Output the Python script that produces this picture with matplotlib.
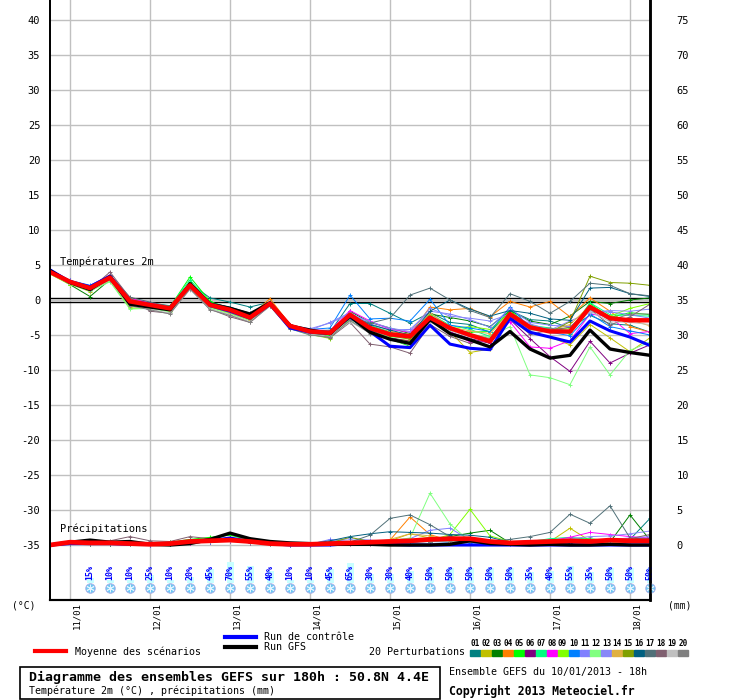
import matplotlib
matplotlib.use("Agg")
import matplotlib.pyplot as plt
from matplotlib.patches import Rectangle
from matplotlib.lines import Line2D

# 31 pas de 6h depuis le 10/01/2013 18h
steps = list(range(31))
day_steps = [1, 5, 9, 13, 17, 21, 25, 29]
day_labels = ['11/01', '12/01', '13/01', '14/01', '15/01', '16/01', '17/01', '18/01']

t_mean = [4.0, 2.6, 1.7, 3.2, -0.2, -0.7, -1.2, 2.1, -0.7, -1.4, -2.5, -0.5, -3.7, -4.5, -4.7,
          -2.1, -4.0, -4.9, -5.2, -2.5, -4.0, -5.0, -5.9, -2.0, -3.9, -4.5, -4.5, -1.0, -2.6, -2.9, -2.9]
t_ctrl = [4.3, 2.6, 1.9, 3.4, -0.2, -0.6, -1.3, 2.2, -0.8, -1.6, -2.6, -0.6, -4.0, -4.6, -4.8,
          -2.4, -4.5, -6.6, -6.8, -3.6, -6.3, -6.9, -7.1, -2.6, -4.6, -5.3, -6.0, -3.0, -4.4, -5.3, -6.5]
t_gfs = [4.2, 2.5, 1.5, 3.3, -0.6, -1.0, -1.4, 2.3, -0.6, -1.2, -2.0, -0.4, -3.7, -4.3, -4.8,
         -2.3, -4.6, -5.6, -6.2, -2.8, -4.8, -5.7, -6.7, -4.5, -7.0, -8.3, -7.9, -4.3, -7.0, -7.5, -7.9]

t_p01 = [4.2, 2.7, 1.8, 3.3, 0.0, -0.5, -0.8, 2.4, 0.3, -0.3, -1.0, -0.3, -3.5, -4.6, -4.6,
         -0.5, -0.5, -1.9, -3.3, -1.8, -3.2, -3.5, -4.6, -1.5, -2.8, -3.0, -4.0, -2.2, -3.4, -3.6, -4.6]
t_p02 = [3.8, 2.3, 1.2, 3.0, -1.0, -1.0, -1.5, 1.8, -1.0, -1.8, -2.8, -0.6, -3.8, -4.8, -5.0,
         -2.5, -4.5, -5.5, -5.8, -3.0, -4.5, -7.5, -7.0, -2.5, -4.6, -5.3, -6.4, -3.5, -5.4, -7.4, -5.4]
t_p03 = [3.9, 2.2, 0.5, 2.9, -0.4, -0.8, -1.4, 2.6, -0.3, -1.1, -2.2, -0.3, -3.6, -4.3, -5.3,
         -1.6, -3.2, -4.0, -4.8, -2.0, -2.5, -3.0, -3.8, -1.5, -3.0, -3.5, -2.3, -0.2, -0.5, 0.0, 0.3]
t_p04 = [4.0, 2.5, 1.6, 3.0, 0.3, -0.6, -1.3, 2.0, -0.5, -1.3, -2.3, 0.2, -3.5, -4.4, -4.6,
         -1.8, -3.8, -4.5, -4.9, -1.0, -1.4, -1.2, -2.4, -0.2, -1.0, -0.2, -2.4, 0.3, -1.6, -3.8, -4.6]
t_p05 = [4.3, 2.6, 1.5, 2.8, -0.3, -0.9, -1.0, 3.3, -0.2, -1.3, -2.6, -0.6, -3.9, -4.7, -5.1,
         -2.3, -4.3, -5.6, -6.6, -2.6, -4.2, -4.6, -4.5, -1.5, -3.8, -4.1, -4.8, -0.5, -2.5, -1.8, -2.1]
t_p06 = [4.1, 2.5, 1.7, 3.1, -0.4, -0.8, -1.3, 2.0, -0.8, -1.6, -2.7, -0.7, -3.8, -4.5, -4.8,
         -2.4, -4.3, -5.4, -5.9, -2.9, -4.6, -5.5, -6.2, -2.8, -5.5, -8.1, -10.2, -5.9, -9.0, -7.6, -6.4]
t_p07 = [4.1, 2.7, 1.9, 3.4, 0.1, -0.5, -0.9, 2.9, -0.4, -1.1, -2.1, -0.4, -3.6, -4.4, -4.6,
         -2.0, -3.6, -4.6, -5.3, -2.0, -3.6, -4.2, -5.2, -2.3, -3.6, -4.0, -4.4, -0.4, -2.1, -2.2, -2.3]
t_p08 = [4.2, 2.8, 2.0, 3.6, 0.2, -0.4, -1.0, 2.2, -0.6, -1.5, -2.4, -0.5, -3.7, -4.2, -4.4,
         -1.5, -3.0, -4.2, -4.6, -2.3, -4.5, -6.0, -5.8, -3.1, -6.7, -6.9, -5.8, -2.0, -2.4, -4.8, -4.5]
t_p09 = [3.7, 2.2, 1.4, 2.7, -1.2, -1.1, -1.6, 2.3, -1.0, -1.9, -2.9, -0.8, -4.0, -4.9, -5.5,
         -2.7, -4.5, -5.5, -6.0, -2.2, -4.1, -3.8, -4.2, -1.8, -3.9, -4.2, -4.0, -0.8, -2.3, -1.2, -0.5]
t_p10 = [4.3, 2.8, 2.1, 3.5, 0.0, -0.5, -1.1, 2.2, -0.9, -1.7, -2.6, -0.5, -3.8, -4.2, -4.0,
         0.7, -2.7, -2.6, -3.0, 0.1, -3.6, -4.0, -4.5, -1.0, -3.9, -4.6, -5.1, -2.0, -3.8, -4.4, -5.0]
t_p11 = [4.0, 2.6, 1.8, 3.2, -0.1, -0.6, -1.1, 2.1, -0.7, -1.4, -2.4, -0.5, -3.6, -4.3, -3.2,
         -1.8, -3.4, -4.3, -4.2, -1.6, -2.0, -2.8, -3.9, -1.2, -3.2, -3.6, -3.8, -1.6, -1.7, -2.1, -2.6]
t_p12 = [3.8, 2.3, 1.3, 2.6, -1.3, -1.2, -1.7, 1.8, -1.2, -2.0, -2.9, -0.9, -4.1, -5.0, -5.3,
         -3.0, -4.5, -5.3, -5.5, -2.7, -3.8, -4.9, -5.3, -3.8, -10.7, -11.1, -12.1, -6.7, -10.7, -7.2, -6.0]
t_p13 = [4.1, 2.7, 1.9, 3.3, 0.1, -0.7, -1.2, 2.0, -0.8, -1.5, -2.5, -0.6, -3.6, -4.1, -3.3,
         -2.0, -3.1, -4.0, -4.5, -1.2, -2.3, -2.6, -3.0, -2.0, -3.4, -4.3, -3.0, -1.8, -1.5, -1.6, -1.3]
t_p14 = [4.0, 2.5, 1.6, 3.1, -0.3, -0.9, -1.5, 2.0, -0.9, -1.8, -2.8, -0.7, -3.9, -4.7, -4.9,
         -2.2, -4.0, -5.0, -5.4, -1.8, -3.9, -4.4, -4.8, -1.9, -3.8, -4.4, -3.5, -0.8, -2.4, -2.8, -3.7]
t_p15 = [3.9, 2.4, 1.5, 3.0, -0.5, -0.9, -1.4, 2.1, -0.8, -1.6, -2.7, -0.5, -3.7, -4.6, -4.9,
         -2.3, -4.2, -5.1, -5.6, -2.6, -4.3, -5.0, -5.6, -2.5, -4.1, -4.6, -3.1, 3.4, 2.5, 2.4, 2.1]
t_p16 = [4.2, 2.6, 1.8, 3.4, 0.0, -0.6, -1.1, 2.3, -0.4, -1.0, -1.9, -0.4, -3.5, -4.4, -4.5,
         -2.1, -3.5, -4.3, -5.0, -1.6, 0.0, -1.3, -2.3, -1.5, -1.9, -2.7, -2.9, 1.7, 1.8, 0.9, 0.5]
t_p17 = [4.0, 2.5, 1.6, 3.6, 0.4, -0.3, -0.9, 2.2, -0.5, -1.2, -2.2, -0.3, -3.5, -4.4, -4.3,
         -2.5, -3.3, -2.6, 0.7, 1.7, 0.0, -1.5, -2.5, 0.9, -0.2, -1.9, -0.2, 2.4, 2.1, 0.9, 0.6]
t_p18 = [3.9, 2.4, 1.5, 4.0, 0.3, -1.6, -1.9, 1.6, -1.3, -2.4, -3.2, -0.8, -4.0, -4.9, -5.4,
         -3.2, -6.3, -6.7, -7.6, -3.5, -5.2, -6.2, -5.6, -2.5, -4.9, -4.3, -3.9, -1.3, -3.6, -2.4, -0.6]
t_p19 = [3.8, 2.3, 1.4, 2.8, -0.9, -1.3, -1.9, 1.5, -1.3, -2.1, -3.1, -0.9, -4.0, -4.9, -5.2,
         -3.1, -4.7, -5.7, -6.4, -3.2, -4.4, -5.3, -5.7, -2.4, -4.3, -4.6, -4.3, -1.6, -3.1, -3.2, -3.5]
t_p20 = [3.9, 2.4, 1.5, 2.9, -0.8, -1.4, -2.0, 1.6, -1.4, -2.2, -3.2, -0.8, -4.1, -5.0, -5.3,
         -2.9, -4.8, -5.5, -6.1, -2.9, -4.2, -4.9, -5.5, -2.3, -4.2, -4.0, -4.6, -1.2, -2.9, -2.0, -2.0]

# précipitations (mm)
p_mean = [0.0, 0.4, 0.3, 0.3, 0.2, 0.1, 0.2, 0.5, 0.6, 0.7, 0.5, 0.2, 0.1, 0.1, 0.2,
          0.3, 0.4, 0.5, 0.6, 0.8, 0.9, 0.9, 0.5, 0.3, 0.4, 0.5, 0.6, 0.5, 0.7, 0.6, 0.6]
p_ctrl = [0.0, 0.2, 0.2, 0.2, 0.1, 0.1, 0.1, 0.4, 0.6, 1.0, 0.5, 0.2, 0.0, 0.0, 0.0,
          0.2, 0.3, 0.1, 0.0, 0.0, 0.0, 0.0, 0.0, 0.0, 0.0, 0.0, 0.0, 0.0, 0.0, 0.0, 0.0]
p_gfs = [0.0, 0.4, 0.7, 0.4, 0.5, 0.1, 0.0, 0.2, 0.8, 1.7, 0.9, 0.5, 0.3, 0.2, 0.1,
         0.1, 0.1, 0.0, 0.0, 0.0, 0.1, 0.6, 0.2, 0.1, 0.0, 0.1, 0.0, 0.0, 0.1, 0.0, 0.0]

p_p01 = [0, 0.3, 0.2, 0.2, 0.1, 0.1, 0.2, 0.5, 0.6, 0.8, 0.5, 0.2, 0.1, 0.1, 0.3,
         0.5, 0.6, 0.5, 0.4, 0.6, 0.7, 0.5, 0.4, 0.3, 0.5, 0.4, 0.3, 0.5, 0.6, 0.8, 3.8]
p_p02 = [0, 0.2, 0.3, 0.2, 0.1, 0.1, 0.2, 0.6, 0.7, 1.0, 0.6, 0.2, 0.1, 0.1, 0.2,
         0.4, 0.3, 0.6, 1.6, 1.0, 0.5, 0.6, 0.4, 0.3, 0.4, 0.5, 2.4, 0.6, 0.4, 0.5, 0.6]
p_p03 = [0, 0.2, 0.2, 0.2, 0.1, 0.1, 0.3, 0.6, 1.0, 1.5, 0.8, 0.3, 0.1, 0.1, 0.2,
         0.3, 0.4, 0.5, 0.6, 0.8, 1.2, 1.7, 2.1, 0.3, 0.3, 0.4, 0.3, 0.5, 0.4, 4.3, 0.7]
p_p04 = [0, 0.2, 0.1, 0.2, 0.1, 0.1, 0.2, 0.4, 0.5, 0.7, 0.4, 0.2, 0.1, 0.1, 0.2,
         0.3, 0.4, 0.7, 4.0, 1.5, 0.6, 0.4, 0.3, 0.3, 0.4, 0.3, 0.5, 0.3, 0.5, 0.4, 0.4]
p_p05 = [0, 0.1, 0.2, 0.1, 0.1, 0.1, 0.4, 0.8, 1.1, 1.4, 0.7, 0.3, 0.1, 0.1, 0.1,
         0.2, 0.3, 0.4, 0.6, 0.5, 0.7, 0.6, 0.5, 0.3, 0.4, 0.6, 0.8, 0.9, 0.6, 0.5, 0.6]
p_p06 = [0, 0.1, 0.1, 0.1, 0.1, 0.0, 0.1, 0.3, 0.4, 0.6, 0.3, 0.1, 0.0, 0.0, 0.1,
         0.1, 0.2, 0.3, 0.4, 0.6, 0.5, 0.4, 0.3, 0.2, 0.3, 0.4, 0.6, 0.5, 0.7, 0.6, 0.5]
p_p07 = [0, 0.2, 0.2, 0.2, 0.1, 0.1, 0.2, 0.5, 0.7, 0.9, 0.5, 0.2, 0.1, 0.1, 0.1,
         0.3, 0.4, 0.5, 0.5, 0.7, 0.6, 0.5, 0.4, 0.4, 0.5, 0.9, 1.1, 0.8, 0.6, 0.5, 0.4]
p_p08 = [0, 0.1, 0.1, 0.1, 0.1, 0.0, 0.1, 0.3, 0.5, 0.7, 0.4, 0.2, 0.1, 0.0, 0.1,
         0.2, 0.3, 0.4, 0.5, 0.6, 0.5, 0.4, 0.3, 0.3, 0.4, 0.6, 1.1, 1.8, 1.5, 1.2, 1.0]
p_p09 = [0, 0.2, 0.2, 0.2, 0.1, 0.1, 0.2, 0.5, 0.6, 0.8, 0.5, 0.2, 0.1, 0.1, 0.2,
         0.3, 0.4, 0.4, 0.6, 0.6, 1.5, 5.1, 1.3, 0.5, 0.4, 0.5, 0.6, 0.4, 0.5, 0.6, 0.7]
p_p10 = [0, 0.1, 0.1, 0.1, 0.1, 0.0, 0.1, 0.4, 0.5, 0.7, 0.4, 0.1, 0.0, 0.0, 0.2,
         0.5, 0.6, 0.5, 0.4, 0.5, 0.4, 0.3, 0.3, 0.2, 0.3, 0.5, 0.4, 0.6, 0.5, 0.4, 0.4]
p_p11 = [0, 0.2, 0.2, 0.2, 0.1, 0.1, 0.2, 0.5, 0.7, 0.8, 0.4, 0.2, 0.1, 0.1, 0.8,
         0.5, 0.6, 0.7, 0.9, 2.1, 2.4, 0.7, 0.5, 0.4, 0.6, 0.5, 0.7, 0.6, 0.8, 1.0, 1.2]
p_p12 = [0, 0.1, 0.1, 0.2, 0.1, 0.1, 0.2, 0.4, 0.6, 0.8, 0.5, 0.2, 0.1, 0.1, 0.2,
         0.3, 0.3, 0.6, 1.0, 7.4, 3.0, 0.5, 0.4, 0.3, 0.4, 0.6, 0.5, 0.5, 0.6, 0.5, 0.5]
p_p13 = [0, 0.1, 0.2, 0.2, 0.1, 0.1, 0.2, 0.4, 0.6, 0.7, 0.4, 0.2, 0.1, 0.1, 0.6,
         0.9, 0.7, 0.5, 0.6, 0.8, 0.9, 0.6, 0.5, 0.4, 0.5, 0.7, 0.9, 1.2, 1.3, 1.6, 2.0]
p_p14 = [0, 0.2, 0.2, 0.2, 0.1, 0.1, 0.2, 0.5, 0.7, 0.9, 0.6, 0.2, 0.1, 0.1, 0.2,
         0.3, 0.3, 0.8, 1.6, 1.3, 0.7, 0.6, 0.5, 0.3, 0.4, 0.5, 0.6, 0.5, 0.4, 0.5, 0.6]
p_p15 = [0, 0.1, 0.2, 0.2, 0.1, 0.1, 0.2, 0.6, 0.8, 1.0, 0.5, 0.2, 0.1, 0.1, 0.3,
         1.1, 0.5, 0.4, 0.5, 0.6, 0.5, 0.4, 0.4, 0.3, 0.4, 0.5, 0.6, 0.5, 0.6, 0.7, 0.8]
p_p16 = [0, 0.2, 0.2, 0.2, 0.1, 0.1, 0.2, 0.5, 0.6, 0.8, 0.4, 0.2, 0.2, 0.2, 0.6,
         1.2, 1.6, 1.9, 1.8, 1.7, 1.5, 1.4, 1.1, 0.4, 0.4, 0.5, 0.6, 0.5, 0.6, 0.8, 0.9]
p_p17 = [0, 0.2, 0.2, 0.2, 0.1, 0.1, 0.2, 0.5, 0.6, 0.8, 0.5, 0.2, 0.1, 0.1, 0.2,
         0.4, 1.4, 3.8, 4.3, 2.9, 1.2, 0.6, 0.5, 0.8, 1.2, 1.8, 4.4, 3.1, 5.6, 1.0, 0.8]
p_p18 = [0, 0.3, 0.4, 0.6, 1.2, 0.6, 0.5, 1.2, 0.9, 0.8, 0.5, 0.3, 0.2, 0.2, 0.2,
         0.3, 0.4, 0.5, 0.6, 0.5, 0.6, 0.5, 0.4, 0.3, 0.5, 0.6, 0.7, 0.8, 0.6, 0.9, 1.5]
p_p19 = [0, 0.2, 0.3, 0.3, 0.2, 0.2, 0.3, 0.5, 0.6, 0.7, 0.4, 0.2, 0.1, 0.1, 0.1,
         0.2, 0.3, 0.4, 0.5, 0.6, 0.5, 0.4, 0.3, 0.2, 0.3, 0.4, 0.5, 0.4, 0.5, 0.6, 0.6]
p_p20 = [0, 0.2, 0.2, 0.3, 0.2, 0.1, 0.3, 0.6, 0.7, 0.8, 0.5, 0.3, 0.2, 0.1, 0.1,
         0.3, 0.4, 0.5, 0.4, 0.5, 0.6, 0.5, 0.4, 0.3, 0.4, 0.5, 0.6, 0.5, 0.6, 0.7, 0.7]

# probabilité de neige (%) à partir du pas 2
snow_pct = [15, 10, 10, 25, 10, 20, 45, 70, 55, 40, 10, 10, 45, 65, 30,
            30, 40, 50, 50, 50, 50, 50, 35, 40, 55, 35, 50, 50, 50]

pert_colors = ['#008080', '#c0c000', '#008000', '#ff8000', '#00ff00', '#800080', '#00ff80',
               '#ff00ff', '#80ff00', '#0080ff', '#8080ff', '#80ff80', '#8888f8', '#e0b040',
               '#80a000', '#006080', '#507078', '#806070', '#c0c0c0', '#808080']

t_perts = [t_p01, t_p02, t_p03, t_p04, t_p05, t_p06, t_p07, t_p08, t_p09, t_p10,
           t_p11, t_p12, t_p13, t_p14, t_p15, t_p16, t_p17, t_p18, t_p19, t_p20]
p_perts = [p_p01, p_p02, p_p03, p_p04, p_p05, p_p06, p_p07, p_p08, p_p09, p_p10,
           p_p11, p_p12, p_p13, p_p14, p_p15, p_p16, p_p17, p_p18, p_p19, p_p20]

PRECIP_BASE = -35  # 0 mm tracé au niveau -35 °C
MONO = 'DejaVu Sans Mono'
W, H = 740, 700


def prec(vals):
    return [PRECIP_BASE + v for v in vals]


def ftext(x, y, s, **kw):
    # texte placé en pixels (origine en haut à gauche)
    fig.text(x / W, 1 - y / H, s, family=MONO, **kw)


fig = plt.figure(figsize=(7.4, 7.0), dpi=100)
ax = fig.add_axes([50 / W, 100 / H, 600 / W, 600 / H])
ax.set_xlim(0, 30)
ax.set_ylim(-300 / 7, 300 / 7)

for lvl in range(-35, 45, 5):
    ax.axhline(lvl, color='#c0c0c0', lw=1, zorder=0)
for d in day_steps:
    ax.axvline(d, color='#c0c0c0', lw=1, zorder=0)
ax.axhline(0.22, color='black', lw=1, zorder=1)
ax.axhline(-0.22, color='black', lw=1, zorder=1)

for vals, col in zip(t_perts, pert_colors):
    ax.plot(steps, vals, color=col, lw=0.7, marker='+', ms=3, mew=0.7, zorder=2)
for vals, col in zip(p_perts, pert_colors):
    ax.plot(steps, prec(vals), color=col, lw=0.7, marker='+', ms=3, mew=0.7, zorder=2)

ax.plot(steps, t_ctrl, color='#0000ff', lw=2.2, zorder=3)
ax.plot(steps, t_gfs, color='black', lw=2.4, zorder=3)
ax.plot(steps, t_mean, color='#ff0000', lw=3.2, zorder=4)
ax.plot(steps, prec(p_ctrl), color='#0000ff', lw=2.2, zorder=3)
ax.plot(steps, prec(p_gfs), color='black', lw=2.4, zorder=3)
ax.plot(steps, prec(p_mean), color='#ff0000', lw=3.4, zorder=4)

# neige
snow_steps = steps[2:]
ax.bar(snow_steps, [p * 0.043 for p in snow_pct], bottom=-40.4, width=0.35,
       color='#c8ffff', zorder=2)
for s, p in zip(snow_steps, snow_pct):
    ax.text(s, -38.9, f'{p}%', rotation=90, ha='center', va='center', color='#0000ff',
            fontsize=6, family=MONO, fontweight='bold', zorder=5, clip_on=False)
ax.scatter(snow_steps, [-41.1] * len(snow_steps), s=48, color='#70c8f2',
           edgecolors='#b0b0e8', linewidths=0.6, zorder=5, clip_on=False)
ax.scatter(snow_steps, [-41.1] * len(snow_steps), s=24, marker=(6, 2, 0),
           color='#e4f4ff', linewidths=0.7, zorder=6, clip_on=False)

ax.text(0.5, 5.4, 'Températures 2m', fontsize=7.5, family=MONO, va='center')
ax.text(0.5, -32.7, 'Précipitations', fontsize=7.5, family=MONO, va='center')

ax.set_yticks(range(-35, 45, 5))
ax.set_yticklabels([str(v) for v in range(-35, 45, 5)], family=MONO, fontsize=7.5)
ax.tick_params(axis='y', length=0, pad=7)
ax.set_xticks([])

ax2 = ax.twinx()
ax2.set_ylim(-300 / 7 - PRECIP_BASE, 300 / 7 - PRECIP_BASE)
ax2.set_yticks(range(0, 80, 5))
ax2.set_yticklabels([str(v) for v in range(0, 80, 5)], family=MONO, fontsize=7.5)
ax2.tick_params(axis='y', length=0, pad=19)

for a in (ax, ax2):
    a.spines['top'].set_visible(False)
    a.spines['left'].set_linewidth(1.3)
    a.spines['right'].set_linewidth(1.8)
    a.spines['bottom'].set_linewidth(1.5)

for d, lab in zip(day_steps, day_labels):
    ax.text(d + 0.1, -300 / 7 - 0.3, lab, rotation=90, ha='left', va='top',
            fontsize=6.5, family=MONO)

ftext(12, 606, '(°C)', fontsize=7, va='center')
ftext(668, 606, '(mm)', fontsize=7, va='center')

# légende
fig.add_artist(Line2D([35 / W, 66 / W], [1 - 651 / H] * 2, color='#ff0000', lw=3))
ftext(75, 652, 'Moyenne des scénarios', fontsize=7.2, va='center')
fig.add_artist(Line2D([225 / W, 256 / W], [1 - 637 / H] * 2, color='#0000ff', lw=3))
ftext(264, 637, 'Run de contrôle', fontsize=7.2, va='center')
fig.add_artist(Line2D([225 / W, 256 / W], [1 - 647 / H] * 2, color='black', lw=3))
ftext(264, 647, 'Run GFS', fontsize=7.2, va='center')

ftext(369, 652, '20 Perturbations', fontsize=7.2, va='center')
for k, col in enumerate(pert_colors):
    x0 = 470 + 10.95 * k
    fig.add_artist(Rectangle((x0 / W, 1 - 656 / H), 10 / W, 6 / H, color=col,
                             transform=fig.transFigure))
    ftext(x0 + 5, 644, f'{k + 1:02d}', fontsize=5.5, fontweight='bold',
          ha='center', va='center')

fig.add_artist(Rectangle((20 / W, 1 - 699 / H), 420 / W, 32 / H, fill=False,
                         edgecolor='black', lw=1.2, transform=fig.transFigure))
ftext(29, 677, 'Diagramme des ensembles GEFS sur 180h : 50.8N 4.4E', fontsize=9.5,
      fontweight='bold', va='center')
ftext(29, 691, 'Température 2m (°C) , précipitations (mm)', fontsize=7.2, va='center')
ftext(449, 672, 'Ensemble GEFS du 10/01/2013 - 18h', fontsize=7.2, va='center')
ftext(449, 691, 'Copyright 2013 Meteociel.fr', fontsize=8.3, fontweight='bold', va='center')

fig.savefig('out.png', dpi=100)
